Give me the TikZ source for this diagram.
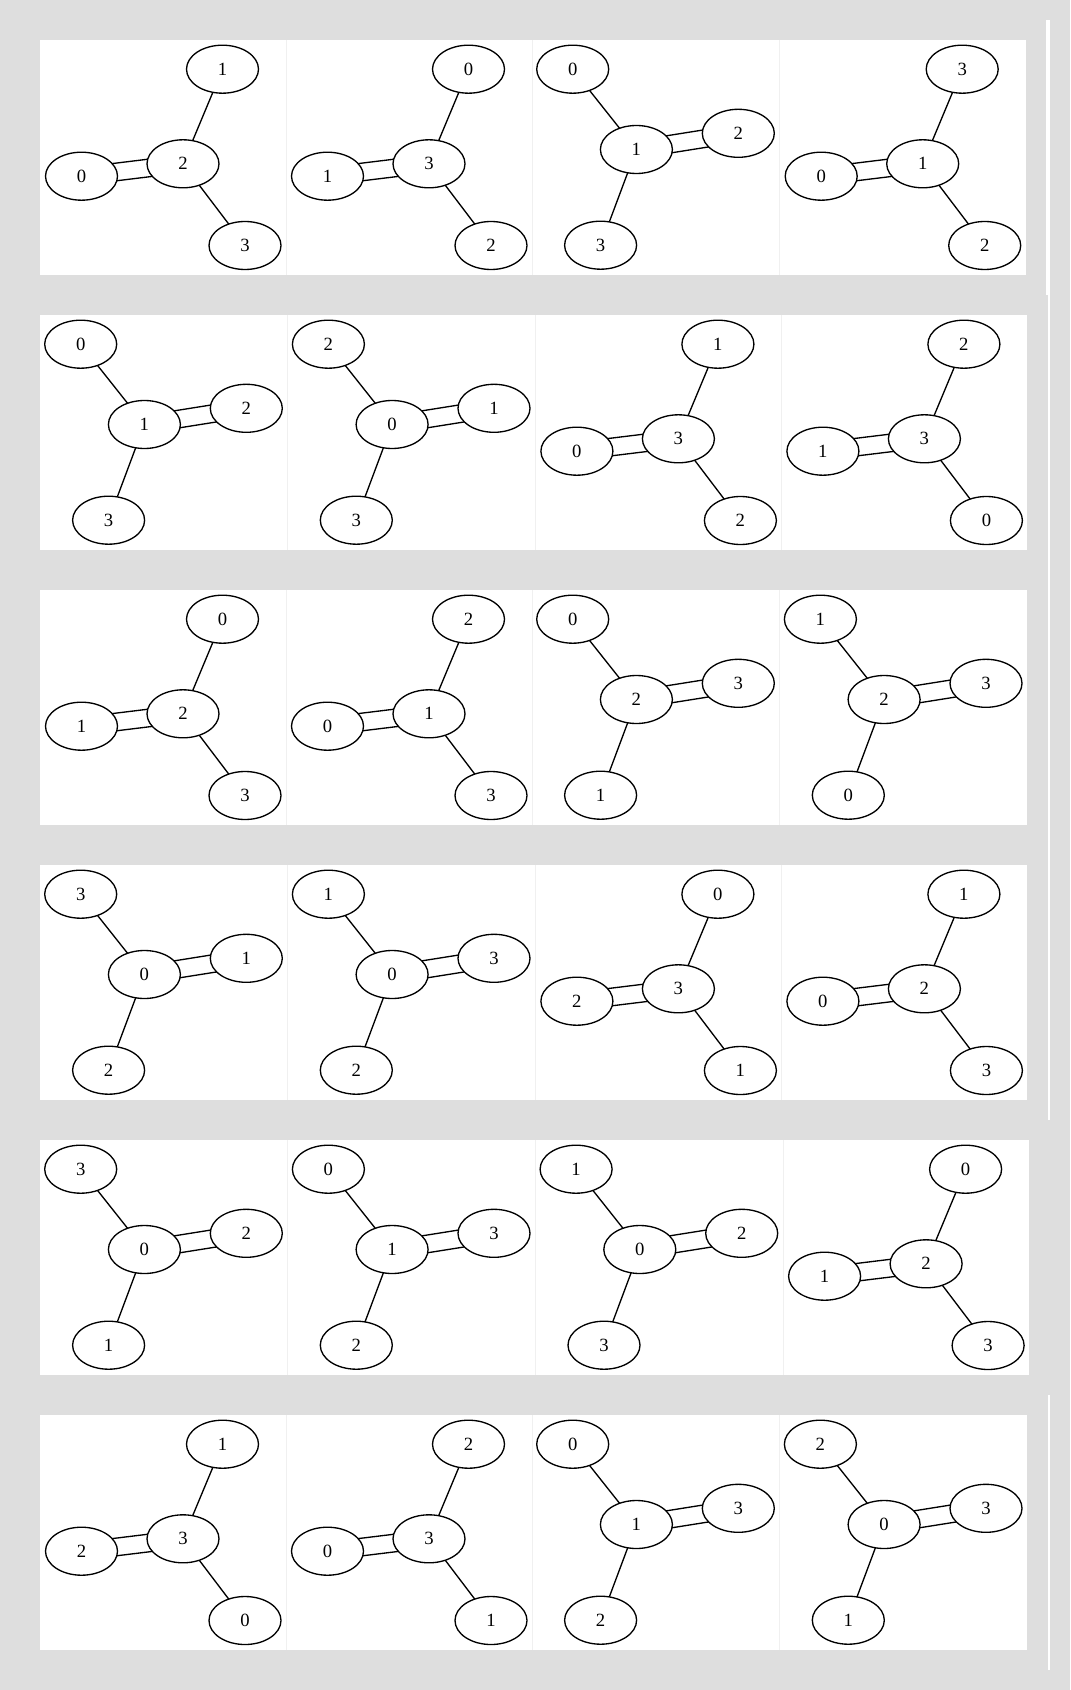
\documentclass[tikz,border=0pt]{standalone}
\usepackage{fontspec}
\setmainfont{Liberation Serif}
\usetikzlibrary{shapes.geometric,calc}
\pgfdeclarelayer{panels}
\pgfdeclarelayer{links}
\pgfsetlayers{panels,links,main}
\definecolor{pagebg}{RGB}{222,222,222}
\definecolor{cellline}{RGB}{240,240,240}
\tikzset{
  gnode/.style={ellipse, draw=black, line width=1pt, fill=white, minimum width=54pt, minimum height=36pt, inner sep=0pt, font=\fontsize{14pt}{16pt}\selectfont},
  gedge/.style={draw=black, line width=1pt},
  panel/.style={fill=white, draw=none},
  divider/.style={draw=cellline, line width=0.75pt},
  rail/.style={fill=white, draw=none}
}
% type A: #4 top, #5 left (double link), #6 centre, #7 bottom
\newcommand\gcellA[7]{%
  \begin{scope}[shift={(#1,#2)}]
    \node[gnode] (#3n#4) at (182.5,29.2) {#4};
    \node[gnode] (#3n#5) at (41.5,136.2) {#5};
    \node[gnode] (#3n#6) at (143,123.8) {#6};
    \node[gnode] (#3n#7) at (205,205.5) {#7};
    \begin{pgfonlayer}{links}
      \draw[gedge] (#3n#6.center) -- (#3n#4.center);
      \draw[gedge] (#3n#6.center) -- (#3n#7.center);
      \draw[gedge] ($(#3n#5.center)!6.6pt!90:(#3n#6.center)$) -- ($(#3n#6.center)!6.6pt!-90:(#3n#5.center)$);
      \draw[gedge] ($(#3n#5.center)!6.6pt!-90:(#3n#6.center)$) -- ($(#3n#6.center)!6.6pt!90:(#3n#5.center)$);
    \end{pgfonlayer}
  \end{scope}}
% type B: #4 top-left, #5 centre, #6 right (double link), #7 bottom-left
\newcommand\gcellB[7]{%
  \begin{scope}[shift={(#1,#2)}]
    \node[gnode] (#3n#4) at (40.7,29.2) {#4};
    \node[gnode] (#3n#5) at (104.4,109.5) {#5};
    \node[gnode] (#3n#6) at (206.3,93.3) {#6};
    \node[gnode] (#3n#7) at (68.6,205.2) {#7};
    \begin{pgfonlayer}{links}
      \draw[gedge] (#3n#5.center) -- (#3n#4.center);
      \draw[gedge] (#3n#5.center) -- (#3n#7.center);
      \draw[gedge] ($(#3n#5.center)!6.6pt!90:(#3n#6.center)$) -- ($(#3n#6.center)!6.6pt!-90:(#3n#5.center)$);
      \draw[gedge] ($(#3n#5.center)!6.6pt!-90:(#3n#6.center)$) -- ($(#3n#6.center)!6.6pt!90:(#3n#5.center)$);
    \end{pgfonlayer}
  \end{scope}}
\begin{document}
\begin{tikzpicture}[x=0.75pt,y=-0.75pt]
\begin{pgfonlayer}{panels}
  \fill[pagebg] (0,0) rectangle (1070,1690);
  \useasboundingbox (0,0) rectangle (1070,1690);
  % right rail
  \fill[rail] (1046,20) rectangle (1050,295);
  \fill[rail] (1048,295) rectangle (1050,1120);
  \fill[rail] (1048,1395) rectangle (1050,1670);
  % panels
  \fill[panel] (40,40) rectangle (1025.7,275);
  \fill[panel] (40,315) rectangle (1027.4,550);
  \fill[panel] (40,590) rectangle (1027.4,825);
  \fill[panel] (40,865) rectangle (1027.4,1100);
  \fill[panel] (40,1140) rectangle (1029.1,1375);
  \fill[panel] (40,1415) rectangle (1027.4,1650);
  % cell dividers
  \foreach \xa/\xb/\xc/\yt in {286/532/779.7/40, 287.7/535.4/781.4/315, 286/532/779.7/590, 287.7/535.4/781.4/865, 287.7/535.4/783.1/1140, 286/532/779.7/1415}{
    \draw[divider] (\xa,\yt) -- (\xa,\yt+235);
    \draw[divider] (\xb,\yt) -- (\xb,\yt+235);
    \draw[divider] (\xc,\yt) -- (\xc,\yt+235);
  }
\end{pgfonlayer}
% row 1
\gcellA{40}{40}{ra}{1}{0}{2}{3}
\gcellA{286}{40}{rb}{0}{1}{3}{2}
\gcellB{532}{40}{rc}{0}{1}{2}{3}
\gcellA{779.7}{40}{rd}{3}{0}{1}{2}
% row 2
\gcellB{40}{315}{sa}{0}{1}{2}{3}
\gcellB{287.7}{315}{sb}{2}{0}{1}{3}
\gcellA{535.4}{315}{sc}{1}{0}{3}{2}
\gcellA{781.4}{315}{sd}{2}{1}{3}{0}
% row 3
\gcellA{40}{590}{ta}{0}{1}{2}{3}
\gcellA{286}{590}{tb}{2}{0}{1}{3}
\gcellB{532}{590}{tc}{0}{2}{3}{1}
\gcellB{779.7}{590}{td}{1}{2}{3}{0}
% row 4
\gcellB{40}{865}{ua}{3}{0}{1}{2}
\gcellB{287.7}{865}{ub}{1}{0}{3}{2}
\gcellA{535.4}{865}{uc}{0}{2}{3}{1}
\gcellA{781.4}{865}{ud}{1}{0}{2}{3}
% row 5
\gcellB{40}{1140}{va}{3}{0}{2}{1}
\gcellB{287.7}{1140}{vb}{0}{1}{3}{2}
\gcellB{535.4}{1140}{vc}{1}{0}{2}{3}
\gcellA{783.1}{1140}{vd}{0}{1}{2}{3}
% row 6
\gcellA{40}{1415}{wa}{1}{2}{3}{0}
\gcellA{286}{1415}{wb}{2}{0}{3}{1}
\gcellB{532}{1415}{wc}{0}{1}{3}{2}
\gcellB{779.7}{1415}{wd}{2}{0}{3}{1}
\end{tikzpicture}
\end{document}
